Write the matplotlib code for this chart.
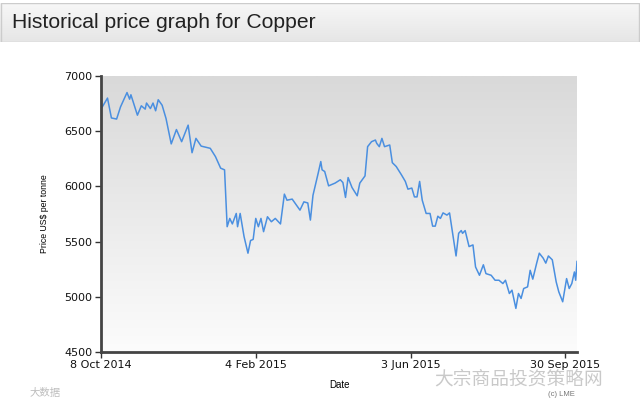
import numpy as np
import pandas as pd
import matplotlib
matplotlib.use("Agg")
import matplotlib.pyplot as plt
import matplotlib.dates as mdates
from matplotlib.patches import Rectangle

# ---- data (LME copper, US$ per tonne) ----
dates = [
    "2014-10-08", "2014-10-13", "2014-10-16", "2014-10-20", "2014-10-23", "2014-10-28",
    "2014-10-30", "2014-10-31", "2014-11-05", "2014-11-08", "2014-11-11", "2014-11-12",
    "2014-11-15", "2014-11-17", "2014-11-19", "2014-11-21", "2014-11-24", "2014-11-27",
    "2014-12-01", "2014-12-05", "2014-12-09", "2014-12-14", "2014-12-17", "2014-12-20",
    "2014-12-24", "2014-12-31", "2015-01-04", "2015-01-08", "2015-01-11", "2015-01-13",
    "2015-01-15", "2015-01-17", "2015-01-20", "2015-01-21", "2015-01-23", "2015-01-26",
    "2015-01-29", "2015-01-31", "2015-02-02", "2015-02-04", "2015-02-06", "2015-02-08",
    "2015-02-10", "2015-02-13", "2015-02-16", "2015-02-19", "2015-02-23", "2015-02-26",
    "2015-02-28", "2015-03-04", "2015-03-10", "2015-03-13", "2015-03-16", "2015-03-18",
    "2015-03-20", "2015-03-24", "2015-03-26", "2015-03-27", "2015-03-29", "2015-04-01",
    "2015-04-06", "2015-04-10", "2015-04-12", "2015-04-14", "2015-04-16", "2015-04-19",
    "2015-04-23", "2015-04-25", "2015-04-29", "2015-05-01", "2015-05-04", "2015-05-07",
    "2015-05-08", "2015-05-10", "2015-05-12", "2015-05-14", "2015-05-18", "2015-05-20",
    "2015-05-23", "2015-05-27", "2015-05-30", "2015-06-01", "2015-06-04", "2015-06-06",
    "2015-06-08", "2015-06-10", "2015-06-12", "2015-06-15", "2015-06-18", "2015-06-20",
    "2015-06-22", "2015-06-24", "2015-06-26", "2015-06-28", "2015-07-01", "2015-07-03",
    "2015-07-05", "2015-07-08", "2015-07-10", "2015-07-12", "2015-07-13", "2015-07-15",
    "2015-07-18", "2015-07-21", "2015-07-23", "2015-07-26", "2015-07-29", "2015-07-31",
    "2015-08-04", "2015-08-07", "2015-08-10", "2015-08-13", "2015-08-15", "2015-08-18",
    "2015-08-20", "2015-08-23", "2015-08-25", "2015-08-27", "2015-08-29", "2015-09-01",
    "2015-09-03", "2015-09-05", "2015-09-08", "2015-09-10", "2015-09-13", "2015-09-15",
    "2015-09-17", "2015-09-20", "2015-09-23", "2015-09-25", "2015-09-28", "2015-10-01",
    "2015-10-03", "2015-10-05", "2015-10-07", "2015-10-08", "2015-10-09",
]
prices = [
    6700, 6800, 6620, 6610, 6720, 6850,
    6790, 6830, 6645, 6730, 6700, 6755,
    6705, 6755, 6685, 6785, 6735, 6615,
    6385, 6515, 6405, 6555, 6305, 6435,
    6365, 6345, 6270, 6165, 6150, 5635,
    5710, 5660, 5755, 5635, 5755, 5545,
    5395, 5510, 5520, 5710, 5635, 5710,
    5590, 5725, 5680, 5710, 5660, 5930,
    5875, 5885, 5785, 5860, 5850, 5695,
    5920, 6120, 6225, 6150, 6135, 6005,
    6030, 6060, 6035, 5900, 6080, 5990,
    5915, 6030, 6095, 6360, 6405, 6420,
    6390, 6360, 6435, 6360, 6375, 6215,
    6180, 6105, 6045, 5975, 5985, 5905,
    5905, 6045, 5875, 5755, 5755, 5640,
    5640, 5730, 5710, 5760, 5740, 5760,
    5605, 5370, 5575, 5600, 5575, 5600,
    5455, 5470, 5270, 5195, 5290, 5210,
    5195, 5150, 5150, 5120, 5150, 5030,
    5060, 4895, 5030, 4985, 5075, 5090,
    5240, 5160, 5305, 5395, 5350, 5305,
    5370, 5335, 5135, 5045, 4955, 5165,
    5075, 5120, 5225, 5150, 5320,
]
tick_dates = ["2014-10-08", "2015-02-04", "2015-06-03", "2015-09-30"]
tick_labels = ["8 Oct 2014", "4 Feb 2015", "3 Jun 2015", "30 Sep 2015"]
y_ticks = [4500, 5000, 5500, 6000, 6500, 7000]

title = "Historical price graph for Copper"

x = pd.to_datetime(dates)
xt = pd.to_datetime(tick_dates)

plt.rcParams['font.family'] = ['DejaVu Sans', 'Noto Sans CJK SC']
fig = plt.figure(figsize=(6.4, 4.08), dpi=100)
fig.patch.set_facecolor('white')

# header band
hdr = fig.add_axes([0.0, 1 - 42 / 408, 1.0, 39 / 408])
grad_h = np.linspace(0, 1, 64).reshape(-1, 1)
hdr.imshow(grad_h, aspect='auto', cmap=matplotlib.colors.LinearSegmentedColormap.from_list(
    'h', ['#f7f7f7', '#e6e6e6']), extent=[0, 1, 0, 1], origin='upper')
hdr.set_xlim(0, 1)
hdr.set_ylim(0, 1)
hdr.axis('off')
hdr.add_patch(Rectangle((0.002, 0.0), 0.996, 0.999, fill=False, edgecolor='#cccccc', lw=1.0))
hdr.text(12 / 640, 0.5, title, fontsize=15.2, family=['Liberation Sans'], color='#222222',
         va='center', ha='left')

# main axes
ax = fig.add_axes([101 / 640, 1 - 352 / 408, 476 / 640, 276 / 408])
x0 = mdates.date2num(pd.Timestamp("2014-10-08"))
x1 = mdates.date2num(pd.Timestamp("2015-10-09"))
grad = np.linspace(0, 1, 256).reshape(-1, 1)
ax.imshow(grad, aspect='auto', extent=[x0, x1, 4500, 7000], origin='upper', zorder=0,
          cmap=matplotlib.colors.LinearSegmentedColormap.from_list('g', ['#d9d9d9', '#fcfcfc']))
ax.plot(x, prices, color='#4a8fe0', lw=1.1, zorder=2)
ax.set_xlim(x0, x1)
ax.set_ylim(4500, 7000)

for s in ['top', 'right']:
    ax.spines[s].set_visible(False)
for s in ['left', 'bottom']:
    ax.spines[s].set_color('#444444')
    ax.spines[s].set_linewidth(2.0)

ax.set_xticks(xt)
ax.set_xticklabels(tick_labels)
ax.set_yticks(y_ticks)
ax.tick_params(axis='both', direction='out', length=4, width=1, color='#333333',
               labelsize=8, labelcolor='#111111', pad=2)

ax.set_ylabel("Price US$ per tonne", fontsize=6.3, family=['Liberation Sans'], labelpad=11)
ax.set_xlabel("Date", fontsize=7, family=['Liberation Sans'], labelpad=7)

fig.text(548 / 640, 1 - 395 / 408, "(c) LME", fontsize=5.5, color='#777777',
         family=['Liberation Sans'], va='center', ha='left')

# watermarks
fig.text(434 / 640, 1 - 379.5 / 408, "大宗商品投资策略网", fontsize=13.5, color='#c4c4c4',
         family=['Noto Sans CJK SC'], va='center', ha='left', alpha=0.9)
fig.text(30 / 640, 1 - 393 / 408, "大数据", fontsize=7.5, color='#bdbdbd',
         family=['Noto Sans CJK SC'], va='center', ha='left')

fig.savefig("out.png", dpi=100)
